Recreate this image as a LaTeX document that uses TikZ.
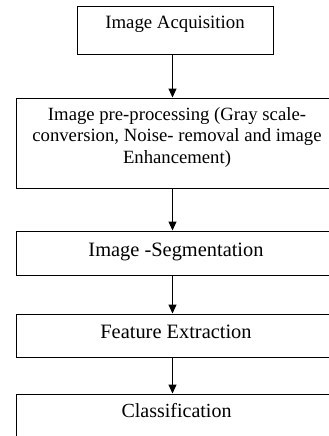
\documentclass[tikz,border=0pt]{standalone}
\usepackage{fontspec}
\setmainfont{Liberation Serif}
\usetikzlibrary{arrows.meta}
\begin{document}
\begin{tikzpicture}[x=1pt,y=-1pt,
  box/.style={draw=black,line width=1pt,rectangle,inner sep=0pt},
  lbl/.style={anchor=base,align=center,inner sep=0pt,text=black},
  arr/.style={draw=black,line width=1pt,-{Triangle[length=9pt,width=8pt]}}]
\useasboundingbox (0,0) rectangle (329,436);
\node[box,minimum width=196pt,minimum height=48pt] (b1) at (175,31) {};
\node[box,minimum width=316pt,minimum height=90pt] (b2) at (174,143) {};
\node[box,minimum width=316pt,minimum height=44pt] (b3) at (174,253) {};
\node[box,minimum width=316pt,minimum height=43pt] (b4) at (174,335.5) {};
\node[box,minimum width=316pt,minimum height=56pt] (b5) at (174,422) {};
\node[lbl,font=\fontsize{18.8}{21.5}\selectfont] (t1) at (175,29) {Image Acquisition};
\node[lbl,font=\fontsize{18.7}{21.5}\selectfont,anchor=north] (t2) at (177,107) {Image pre-processing (Gray scale-\\conversion, Noise- removal and image\\Enhancement)};
\node[lbl,font=\fontsize{20.4}{24}\selectfont] (t3) at (176,256) {Image -Segmentation};
\node[lbl,font=\fontsize{20.4}{24}\selectfont] (t4) at (176,338) {Feature Extraction};
\node[lbl,font=\fontsize{20}{24}\selectfont] (t5) at (176.5,417) {Classification};
\coordinate (ax) at (172.5,0);
\draw[arr] (b1.south -| ax) -- (b2.north -| ax);
\draw[arr] (b2.south -| ax) -- (b3.north -| ax);
\draw[arr] (b3.south -| ax) -- (b4.north -| ax);
\draw[arr] (b4.south -| ax) -- (b5.north -| ax);
\end{tikzpicture}
\end{document}
